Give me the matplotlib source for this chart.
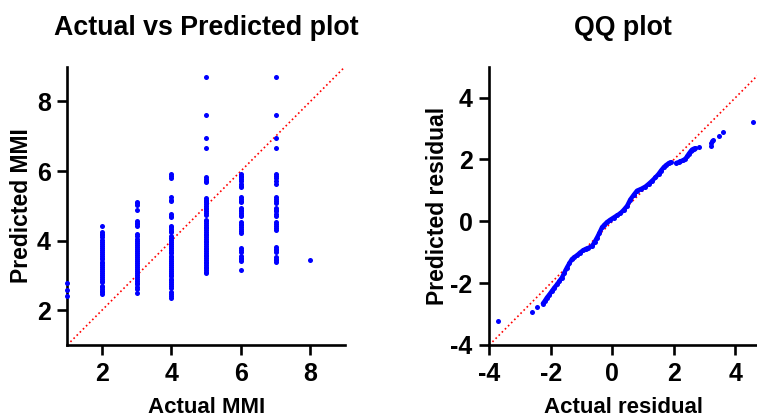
import numpy as np
import matplotlib.pyplot as plt

plt.rcParams['font.family'] = ['Liberation Sans', 'DejaVu Sans']
plt.rcParams['font.weight'] = 'bold'
plt.rcParams['axes.unicode_minus'] = False

# predicted MMI for each actual MMI class
pred_mmi_1 = [2.40, 2.59, 2.77]
pred_mmi_2 = [4.43, 4.25, 4.20, 4.15, 4.09, 4.03, 3.97, 3.91, 3.85, 3.78, 3.73, 3.68,
              3.62, 3.57, 3.51, 3.46, 3.40, 3.35, 3.29, 3.24, 3.18, 3.12, 3.07, 3.01,
              2.96, 2.90, 2.85, 2.80, 2.71, 2.66, 2.61, 2.56, 2.52, 2.48]
pred_mmi_3 = [5.12, 5.07, 5.02, 4.89, 4.57, 4.52, 4.47, 4.43, 4.19, 4.14, 4.04, 3.98,
              3.93, 3.87, 3.81, 3.76, 3.70, 3.64, 3.59, 3.53, 3.47, 3.42, 3.36, 3.30,
              3.25, 3.19, 3.13, 3.08, 3.02, 2.96, 2.91, 2.85, 2.79, 2.74, 2.68, 2.62, 2.50]
pred_mmi_4 = [5.92, 5.87, 5.81, 5.24, 5.18, 5.15, 4.77, 4.72, 4.68, 4.43, 4.38, 4.33,
              4.28, 4.24, 4.12, 4.07, 4.01, 3.96, 3.90, 3.85, 3.79, 3.74, 3.68, 3.63,
              3.57, 3.52, 3.46, 3.41, 3.35, 3.30, 3.24, 3.19, 3.13, 3.08, 3.02, 2.97,
              2.91, 2.86, 2.80, 2.75, 2.70, 2.65, 2.52, 2.47, 2.41, 2.36]
pred_mmi_5 = [8.69, 7.61, 6.96, 6.65, 5.83, 5.78, 5.72, 5.68, 5.23, 5.18, 5.13, 5.10,
              5.05, 5.00, 4.95, 4.90, 4.85, 4.80, 4.75, 4.60, 4.55, 4.50, 4.45, 4.40,
              4.35, 4.30, 4.25, 4.20, 4.15, 4.10, 4.05, 4.00, 3.95, 3.90, 3.85, 3.80,
              3.75, 3.70, 3.65, 3.60, 3.55, 3.50, 3.45, 3.40, 3.35, 3.30, 3.25, 3.20,
              3.15, 3.10, 3.08]
pred_mmi_6 = [5.92, 5.87, 5.82, 5.76, 5.70, 5.64, 5.58, 5.55, 5.25, 5.20, 5.15, 5.10,
              4.94, 4.89, 4.84, 4.79, 4.74, 4.71, 4.54, 4.49, 4.44, 4.38, 4.33, 4.27,
              4.22, 3.78, 3.73, 3.66, 3.56, 3.51, 3.46, 3.42, 3.17]
pred_mmi_7 = [8.69, 7.61, 6.96, 6.65, 5.92, 5.87, 5.80, 5.70, 5.63, 5.25, 5.20, 5.15,
              5.08, 4.94, 4.89, 4.84, 4.77, 4.71, 4.54, 4.49, 4.43, 4.36, 4.30, 3.82,
              3.77, 3.72, 3.68, 3.54, 3.48, 3.44, 3.39]
pred_mmi_8 = [3.44]

mmi_classes = [1, 2, 3, 4, 5, 6, 7, 8]
pred_groups = [pred_mmi_1, pred_mmi_2, pred_mmi_3, pred_mmi_4,
               pred_mmi_5, pred_mmi_6, pred_mmi_7, pred_mmi_8]

# QQ plot: main continuous run of residuals
qq_actual = [-2.26, -2.20, -2.13, -2.05, -1.97, -1.89, -1.80, -1.72, -1.64, -1.56,
             -1.48, -1.40, -1.32, -1.24, -1.15, -1.05, -0.94, -0.86, -0.78, -0.66,
             -0.58, -0.50, -0.42, -0.34, -0.26, -0.18, -0.07, 0.04, 0.15, 0.26,
             0.37, 0.48, 0.58, 0.69, 0.80, 0.94, 1.07, 1.18, 1.29, 1.40,
             1.50, 1.58, 1.67, 1.75, 1.83, 1.89]
qq_pred = [-2.66, -2.58, -2.47, -2.37, -2.26, -2.15, -2.04, -1.93, -1.82, -1.66,
           -1.50, -1.36, -1.23, -1.16, -1.10, -1.01, -0.93, -0.89, -0.86, -0.80,
           -0.67, -0.53, -0.37, -0.20, -0.11, -0.03, 0.05, 0.12, 0.19, 0.26,
           0.37, 0.50, 0.70, 0.85, 0.99, 1.05, 1.12, 1.21, 1.31, 1.42,
           1.53, 1.64, 1.75, 1.82, 1.88, 1.91]
# upper run
qq_actual_hi = [2.08, 2.15, 2.21, 2.29, 2.37, 2.43, 2.48, 2.54, 2.59, 2.65, 2.70]
qq_pred_hi = [1.89, 1.91, 1.94, 1.97, 2.02, 2.10, 2.18, 2.26, 2.32, 2.35, 2.36]
# isolated tail points
qq_actual_tail = [-3.71, -2.62, -2.46, 2.82, 3.21, 3.22, 3.25, 3.28, 3.47, 3.58, 4.57]
qq_pred_tail = [-3.24, -2.92, -2.77, 2.40, 2.45, 2.53, 2.60, 2.64, 2.75, 2.90, 3.21]

dot_color = '#0000ff'
dot_size = 13

fig = plt.figure(figsize=(7.57, 4.2), dpi=100)
ax1 = fig.add_axes([0.0889, 0.1786, 0.3669, 0.6626])
ax2 = fig.add_axes([0.6464, 0.1786, 0.3536, 0.6626])

# left: actual vs predicted
for mmi, preds in zip(mmi_classes, pred_groups):
    ax1.scatter([mmi] * len(preds), preds, s=dot_size, color=dot_color, linewidths=0,
                zorder=3, clip_on=False)
ax1.plot([1, 9], [1, 9], color='red', linestyle=':', linewidth=1.2, zorder=2)
ax1.set_xlim(1, 9)
ax1.set_ylim(1, 9)
ax1.set_xticks([2, 4, 6, 8])
ax1.set_yticks([2, 4, 6, 8])
ax1.set_title('Actual vs Predicted plot', fontsize=19.3, fontweight='bold', pad=23)
ax1.set_xlabel('Actual MMI', fontsize=16, fontweight='bold', labelpad=8)
ax1.set_ylabel('Predicted MMI', fontsize=16.5, fontweight='bold', labelpad=3)

# right: QQ plot
ax2.plot(qq_actual, qq_pred, color=dot_color, linewidth=3.2, solid_capstyle='round',
         zorder=3)
ax2.scatter(qq_actual, qq_pred, s=dot_size, color=dot_color, linewidths=0, zorder=3)
ax2.plot(qq_actual_hi, qq_pred_hi, color=dot_color, linewidth=3.2,
         solid_capstyle='round', zorder=3)
ax2.scatter(qq_actual_hi, qq_pred_hi, s=dot_size, color=dot_color, linewidths=0, zorder=3)
ax2.scatter(qq_actual_tail, qq_pred_tail, s=dot_size, color=dot_color, linewidths=0,
            zorder=3)
ax2.plot([-4, 5], [-4, 5], color='red', linestyle=':', linewidth=1.2, zorder=2)
ax2.set_xlim(-4, 4.7)
ax2.set_ylim(-4, 5)
ax2.set_xticks([-4, -2, 0, 2, 4])
ax2.set_yticks([-4, -2, 0, 2, 4])
ax2.set_title('QQ plot', fontsize=19.3, fontweight='bold', pad=23)
ax2.set_xlabel('Actual residual', fontsize=16, fontweight='bold', labelpad=8)
ax2.set_ylabel('Predicted residual', fontsize=16.5, fontweight='bold', labelpad=1)

for ax in (ax1, ax2):
    ax.spines['top'].set_visible(False)
    ax.spines['right'].set_visible(False)
    for side in ('left', 'bottom'):
        ax.spines[side].set_linewidth(1.9)
    ax.tick_params(direction='out', length=7, width=1.9, labelsize=18, pad=5)
    for lbl in ax.get_xticklabels() + ax.get_yticklabels():
        lbl.set_fontweight('bold')

fig.savefig('out.png', dpi=100)
